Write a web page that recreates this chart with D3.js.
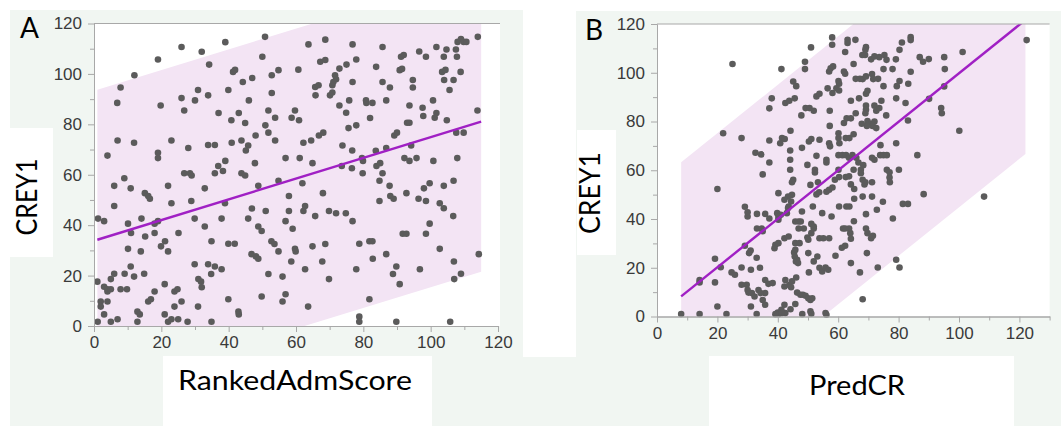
<!DOCTYPE html>
<html>
<head>
<meta charset="utf-8">
<script src="https://cdn.jsdelivr.net/npm/d3@7"></script>
<style>
  html, body { margin: 0; padding: 0; background: #fff; }
  svg { display: block; }
  .tick text { font-family: "Liberation Sans", Arial, sans-serif; fill: #3a3a3a; }
  .title { font-family: Lato, "Open Sans", sans-serif; fill: #000; }
</style>
</head>
<body>
<div id="chart"></div>
<script>
// panel A: RankedAdmScore vs CREY1, [x, y]
const pointsA = [
  [50.8,114.7],[114,114.7],[68.7,113.6],[76.8,111.7],[39,112.6],[26,110.7],[32,108.8],[63.7,111.7],[85.7,110.7],[91.2,106.8],
  [92,107.5],[96.6,108.9],[98.6,106.8],[101.7,110.7],[104.7,109.7],[103.9,106.8],[107.5,109.7],[109.8,112.7],[109,113.8],[108,112.7],
  [110.6,112.7],[107.8,106.8],[50,106.8],[19,105.7],[77.9,105.7],[67.2,104.8],[68.7,105.5],[75,103.7],[34.2,103.7],[72.9,102.1],
  [83.8,102.8],[90.8,101.5],[91.5,102],[103.4,100.8],[104.4,101.6],[108.9,100.8],[12,99.5],[41.3,100.8],[41.9,101.6],[54.8,101.5],
  [60.7,101.7],[52.8,99.5],[71.6,99.5],[71.9,97.9],[44.2,96.8],[47,98.4],[76.8,96.8],[85.7,96.8],[94.7,97.6],[94.7,94.6],
  [104,97.6],[106.8,97.6],[105.6,93.6],[7.9,94.6],[65.7,94.8],[66.7,95.5],[70.8,95.5],[71.1,96.8],[87.9,94.6],[26,90.4],
  [30.9,93.6],[33.9,91.5],[30,89.5],[39.9,93.6],[52.8,92.4],[46,89.5],[65.8,91.5],[70.1,91.5],[70.8,92.6],[75.8,89.5],
  [80.8,89.5],[80.9,88.5],[82.7,88.5],[86.8,89.5],[100.7,89.5],[72.9,87.5],[93.7,87.5],[6.9,88.5],[19.8,87.5],[97.6,86.6],
  [97.8,83.3],[101.7,84.5],[101.2,82.6],[113.9,85.5],[59.7,85.5],[51.8,85.5],[26.8,85.5],[37,84.5],[43,84.5],[53.8,82.6],
  [58.7,82.6],[60.9,81.6],[74.9,84.6],[40.8,81.6],[44.9,80.5],[82,82.5],[93,80.6],[93.7,80.6],[104.8,81.6],[50.9,79.6],
  [77.9,79.6],[75.6,78.5],[107.6,76.7],[109.8,76.7],[89.2,75.6],[90,76.7],[66.8,75.6],[68.1,76.7],[51.8,76.7],[48,75.6],
  [64.5,73.6],[62.2,72.7],[53.8,73.6],[23,73.6],[11.9,72.7],[7,73.6],[40.9,72.7],[35.9,71.8],[33.9,71.8],[43.8,73.6],
  [45.8,71.6],[45.1,69.6],[73.8,71.6],[94.2,71.6],[86.8,70.6],[83.7,69.5],[76.7,69.6],[95.8,66.6],[92.2,66.6],[93.7,65.5],
  [100.8,65.5],[107.9,66.6],[28,70.6],[19,68.7],[19,66.6],[4,67.6],[61.1,66.6],[56.9,66.6],[79.6,66.6],[79.9,65.5],
  [39,65.5],[36.9,63.5],[47.8,64.6],[64.9,64.6],[73.6,63.5],[76.6,62.6],[83.9,63.5],[85,64.6],[85.7,60.6],[79.8,60.6],
  [35.9,60.6],[38.3,61.5],[26.8,60.6],[28.5,60.6],[29,59.7],[43.8,60.6],[44.9,59.7],[6,55.6],[9,58.6],[10.9,54.6],
  [22,55.6],[32.9,54.6],[48.8,55.6],[54.8,57.6],[61.9,56.6],[84.8,57.6],[87.8,55.6],[92.8,52.7],[98,54.6],[99.7,56.6],
  [103.9,55.6],[106.8,57.6],[15.1,52.7],[16.1,51.6],[16.6,50.5],[57.9,51.6],[68,52.7],[88,51.6],[89,50.5],[96.4,50.5],
  [98.6,49.6],[84.8,49.6],[28.9,49.6],[23,48.7],[6,47.6],[38.9,48.7],[46.9,46.6],[102.7,48.7],[103.9,46.7],[106.7,43.6],
  [62.2,45.6],[62.7,47.6],[57.9,45.6],[51,45.6],[74.8,44.7],[69.8,45.6],[71.9,44.7],[1.2,42.6],[3,41.6],[14.1,42.6],
  [19,41.6],[18,40.6],[29.9,42.6],[37.9,42.6],[45.8,42.6],[56.9,41.6],[65.7,43.6],[76.8,41.6],[99.7,40.6],[10.1,40.6],
  [18,36.9],[11,36.9],[25.1,36.9],[32.9,39.5],[48.8,39.5],[49.8,37.7],[59,38.6],[21.1,33.6],[19.9,31.6],[34.9,33.6],
  [39.9,32.6],[41.8,32.6],[52.7,33.6],[53.6,32.5],[59.7,30.6],[59.9,29.6],[64.9,31.6],[68.7,32.5],[78.8,32.6],[81.8,33.6],
  [82.7,33.6],[98.6,36.6],[91.7,36.6],[92.8,36.6],[114.3,28.5],[106.9,25.6],[102.7,30.6],[86.8,28.5],[82.8,26.7],[67.8,25.6],
  [58.6,25.6],[54.8,29.6],[46.8,28.5],[48.1,27.6],[48.8,26.7],[22,29.6],[10.1,30.6],[13.9,29.6],[15.2,35.5],[1,17.6],
  [5,18.6],[6,20.7],[9.1,20.7],[10.9,23.6],[11.9,19.6],[14.9,20.7],[29.9,24.5],[33.9,24.5],[35.9,23.6],[37.9,22.5],
  [31,18.6],[31.8,17.6],[32,15.4],[34.8,20.6],[51.8,20.6],[56,19.6],[62.7,22.5],[69.8,18.6],[77.9,22.5],[88.8,20.6],
  [89.8,23.6],[96.8,22.5],[90.8,16.6],[107,18.6],[109,20.7],[3,15.6],[4,13.7],[4,14.6],[5,14.6],[7.9,14.6],
  [9.8,14.6],[21,16.6],[23.9,13.7],[24.8,14.6],[18,13.7],[16.1,9.7],[16.9,10.6],[26,9.7],[23.9,7.7],[21,4.6],
  [30.9,7.7],[39.9,10.6],[42.9,5.7],[43,4.6],[49.8,11.7],[56.9,12.6],[56,9.7],[63.6,7.7],[81.8,10.6],[2,9.7],
  [2,7.7],[4,9.7],[3,4.6],[12.9,5.7],[13.6,4.6],[1.1,1.7],[5,1.7],[7,2.7],[12.9,1.7],[22,1.7],
  [23,2.7],[25,2.7],[27.8,1.7],[34.9,1.7],[78.8,3.7],[78.8,1.7],[89.8,1.7],[105.8,1.7]
];

// panel B: PredCR vs CREY1, [x, y]
const pointsB = [
  [25,103.6],[41.2,101.5],[20,52.3],[21.9,75.2],[28,73.2],[122.4,113.4],[101.2,108.5],[100.1,76.2],[108.3,49.2],[88.3,50.2],
  [95.1,106.4],[95.3,101.5],[90,105.6],[87,106.4],[88.1,104.5],[94.1,85.5],[94.3,83.4],[95.1,94.4],[90.1,89.3],[86.2,66.2],
  [84,114.6],[84,113.4],[81.1,112.4],[80.3,109.4],[79.1,105.5],[84,100.4],[80.3,96.6],[79.4,94.5],[83.2,95.5],[82.3,87.6],
  [79.2,89.5],[83.1,80.4],[79.2,71.1],[80.1,60.2],[77,57],[77.1,55.1],[78.1,40.2],[81.4,46.2],[83.1,46.2],[79.2,23.3],
  [80.3,20.1],[73.6,106.4],[75.3,107.3],[76,105.3],[70.9,105.5],[72,106.7],[75,101.5],[78,101.5],[73.2,97.5],[75,94.5],
  [69,109.4],[69.2,110.5],[68.9,107.3],[65.7,113.5],[63.1,113.5],[63.1,112.2],[58,114.5],[58,111.5],[62.3,108.5],[68,107.3],
  [65.1,103.6],[57,100.5],[57.5,101.8],[58.3,102.6],[49,104.5],[49,101.5],[51,110.4],[71.2,99.5],[71.6,97.4],[68.1,97.4],
  [69.2,98.5],[65.8,97.5],[67.2,97.5],[61.9,100.5],[62.3,99.6],[60.1,96.6],[60.3,95.5],[56.5,93.6],[58.1,91.7],[59.4,93.6],
  [60.3,92.7],[52.8,90.3],[53.8,91.4],[45.1,96.4],[46.1,94.5],[42.5,87.6],[43.8,88.5],[45.6,89.5],[38,89.5],[37.2,85.4],
  [47.8,82.5],[49.2,85.5],[50.5,85.5],[51.9,84.4],[57.2,84.4],[57.2,78.2],[64.2,88.5],[66.9,89.5],[69.2,91.4],[69.7,92.6],
  [69.2,86.5],[69.2,84.8],[69,83.4],[72,86.5],[72.6,84.4],[74.3,88.5],[75.9,82.5],[73.6,85.5],[65.8,83.4],[69.7,80.2],
  [70.7,79.1],[72,80],[71.4,78.2],[69.5,78.2],[72.6,77.3],[67.8,79.1],[62.8,81.3],[64.2,81.3],[61.9,79.4],[60.1,75.2],
  [60.1,73.2],[60.4,71.1],[62.5,73.2],[63.7,73.2],[65.1,74.8],[57,71.1],[57.3,69.8],[53.8,72.5],[51.1,72.8],[50.3,71.8],
  [48,69.2],[44.2,76.2],[41.4,73.2],[42.3,72.8],[40.8,71.1],[44.1,68.1],[37.2,72.2],[32.6,67.2],[34.5,66.5],[37.2,63.2],
  [35,58.3],[44.1,64.3],[44.1,60.2],[45.1,56.1],[44.7,55.1],[49.8,62.2],[52.3,60.2],[52.3,59.1],[52.8,65.9],[56.1,63.2],
  [56.1,64.3],[60.1,66.2],[61.4,66.2],[62.6,66.2],[63.6,65.1],[64.7,66.2],[60.1,60.2],[58.9,56.1],[60.3,57.2],[62.5,57.2],
  [63.6,57.5],[64.2,54.2],[65.3,52.3],[65.1,60.2],[66.7,63.2],[66,65.1],[67.5,60.2],[67.5,58.8],[68.3,62.1],[68.7,54.2],
  [68.1,56.1],[69,55.1],[71.2,65.1],[72,64.3],[73.9,66.2],[75,66.2],[76.1,66.2],[76.1,60.2],[77,59.2],[74,70.3],
  [71.2,55.1],[68.1,49.2],[65.3,48.3],[62.7,45.1],[63.7,45.1],[65.2,39.1],[64,34.2],[64.2,31.9],[63.6,36.1],[61.6,36.1],
  [62.3,36.1],[61.2,28.2],[62.3,29],[64.2,21.9],[67.2,18.1],[68.1,7.1],[69.2,36.1],[69.7,34.2],[70.9,32.1],[71.5,33.1],
  [69.2,42],[69.5,26],[72.8,43.8],[71.2,49.2],[74.8,47.1],[73.1,20.1],[59.1,24.9],[60.3,45.1],[57.8,41],[54.7,42.4],
  [52.8,50.1],[53.7,51],[56.1,51.2],[57,52],[51.6,45.1],[53.3,55.1],[50.8,54],[51.1,38],[51.9,36.9],[51.9,36.1],
  [51.1,34.2],[49.8,32.4],[50.1,31.5],[48.6,36.1],[46.9,36.1],[46.9,39],[45.8,39],[47.6,39],[48,43.1],[53.8,32.1],
  [55.1,32.1],[57,32.1],[53.1,24.6],[53.8,20],[54.7,18.5],[55.8,20.1],[56.7,19.2],[51.9,22.6],[50.1,26],[50.3,18.1],
  [43.6,45.1],[44.4,47.2],[44.7,49.9],[43.4,49.2],[42.2,47.9],[40.2,50.6],[39.8,42.4],[41,41.7],[40.2,40.8],[43,42.4],
  [43.4,44.5],[40.2,39.7],[39.2,29.4],[38.9,28],[40.2,30.1],[42.2,32.1],[43.6,32.8],[45.8,30.1],[47.2,30.1],[45.4,26.3],
  [45.6,24.6],[46.4,23.3],[46.7,21.9],[46,22.6],[45.8,27.4],[46.1,16],[43.8,12.9],[44.7,14.4],[44.4,12],[42.2,12.3],
  [42.5,15],[46.4,9.8],[47.5,8.9],[48.3,8.9],[49.2,8.5],[50.1,7.5],[50.8,6.8],[51.4,7.5],[50.8,2.1],[51.1,1.1],
  [45.8,5.1],[44.2,3],[42.5,1.4],[42.2,4.8],[41.2,2.7],[40,1.6],[40.2,0.96],[39.2,0.96],[41.4,1.4],[48.1,0.96],
  [55.8,1.4],[56.1,0.7],[35.8,9.6],[35,6.8],[35.8,4.8],[33.6,10.9],[34.3,9.6],[31.4,9.6],[32.3,8.2],[30,10.9],
  [30.3,9.8],[29.7,13],[28,13],[31.1,4.1],[33,1],[35.8,15],[34.1,20],[31.1,19.2],[28,20.1],[24.7,18.1],
  [25.8,17.1],[33,24.1],[30.5,26],[31,27.1],[29.1,29],[30,41],[30,42.8],[29.1,45],[33.1,42.1],[35.8,42.1],
  [33.1,36.1],[34.7,36.1],[35,35],[37.2,40.2],[36.9,13.4],[38.3,13.7],[21.1,20.2],[19.2,23.7],[19.2,14],[14.1,15],
  [14.1,14],[20,4.1],[23,1],[14.1,1],[8,1],[58.1,52.9]
];

// fitted line [intercept, slope], prediction band half width, x span
const fitA = [33.8, 0.411];
const bandA = 59.5;
const spanA = [1, 115];
const fitB = [0.3, 0.995];
const bandB = 55;
const spanB = [8, 122];

const yTicks = [0, 20, 40, 60, 80, 100, 120];
const yMinor = [10, 30, 50, 70, 90, 110];
const xTicksA = [0, 20, 40, 60, 80, 100, 120];
const xMinorA = [10, 30, 50, 70, 90, 110];
const xTicksB = [0, 20, 40, 60, 80, 100, 120];
const xMinorB = [10, 30, 50, 70, 90, 110, 130];

const width = 1061, height = 426;
const green = '#f1f6f2';

let svg = d3.select('#chart').append('svg')
  .attr('width', width)
  .attr('height', height);

svg.append('rect').attr('width', width).attr('height', height).attr('fill', '#fff');

function drawPanel(p) {
  let g = svg.append('g');

  // slide backgrounds and white label boxes
  p.greens.forEach(r => {
    g.append('rect').attr('x', r[0]).attr('y', r[1]).attr('width', r[2]).attr('height', r[3]).attr('fill', green);
  });
  p.whites.forEach(r => {
    g.append('rect').attr('x', r[0]).attr('y', r[1]).attr('width', r[2]).attr('height', r[3]).attr('fill', '#fff');
  });

  let x = d3.scaleLinear().domain(p.xDomain).range(p.xRange);
  let y = d3.scaleLinear().domain([0, 120]).range(p.yRange);

  g.append('rect')
    .attr('x', x(0)).attr('y', y(120))
    .attr('width', x(p.xDomain[1]) - x(0) + p.padRight)
    .attr('height', y(0) - y(120))
    .attr('fill', '#fff');

  let clipId = 'clip' + p.name;
  g.append('clipPath').attr('id', clipId)
    .append('rect')
    .attr('x', x(0)).attr('y', y(120))
    .attr('width', x(p.xDomain[1]) - x(0))
    .attr('height', y(0) - y(120));

  let fitY = v => p.fit[0] + p.fit[1] * v;
  let band = [
    [p.span[0], fitY(p.span[0]) + p.band],
    [p.span[1], fitY(p.span[1]) + p.band],
    [p.span[1], fitY(p.span[1]) - p.band],
    [p.span[0], fitY(p.span[0]) - p.band]
  ];

  g.append('path')
    .attr('clip-path', `url(#${clipId})`)
    .attr('d', d3.line().x(d => x(d[0])).y(d => y(d[1]))(band) + 'Z')
    .attr('fill', '#f3e4f4');

  g.append('g').selectAll('circle')
    .data(p.points)
    .enter()
    .append('circle')
    .attr('cx', d => x(d[0]))
    .attr('cy', d => y(d[1]))
    .attr('r', 3.3)
    .attr('fill', '#5b5b5b');

  g.append('path')
    .attr('clip-path', `url(#${clipId})`)
    .attr('d', d3.line().x(d => x(d)).y(d => y(fitY(d)))(p.span))
    .attr('stroke', '#a020c4')
    .attr('stroke-width', 2.4)
    .attr('fill', 'none');

  // axes
  let axisColor = '#a8a8a8';
  let style = sel => {
    sel.select('.domain').attr('stroke', axisColor);
    sel.selectAll('.tick line').attr('stroke', axisColor);
    sel.selectAll('.tick text').style('font-size', '17px');
  };

  g.append('g')
    .attr('transform', `translate(0,${y(0)})`)
    .call(d3.axisBottom(x).tickValues(p.xTicks).tickSize(6).tickPadding(4).tickSizeOuter(0))
    .call(style);
  g.append('g')
    .attr('transform', `translate(0,${y(0)})`)
    .call(d3.axisBottom(x).tickValues(p.xMinor).tickSize(4).tickFormat('').tickSizeOuter(0))
    .call(style);

  g.append('g')
    .attr('transform', `translate(${x(0)},0)`)
    .call(d3.axisLeft(y).tickValues(yTicks).tickSize(6).tickPadding(6).tickSizeOuter(0))
    .call(style);
  g.append('g')
    .attr('transform', `translate(${x(0)},0)`)
    .call(d3.axisLeft(y).tickValues(yMinor).tickSize(4).tickFormat('').tickSizeOuter(0))
    .call(style);

  g.append('line')
    .attr('x1', x(0)).attr('x2', x(p.xDomain[1]) + p.padRight)
    .attr('y1', y(120)).attr('y2', y(120))
    .attr('stroke', axisColor);

  // titles
  g.append('text').attr('class', 'title')
    .attr('x', p.letter[0]).attr('y', p.letter[1])
    .style('font-size', '28px')
    .text(p.name);

  g.append('text').attr('class', 'title')
    .attr('transform', `translate(${p.yTitle[0]},${p.yTitle[1]}) rotate(-90)`)
    .attr('text-anchor', 'middle')
    .attr('textLength', p.yTitle[2])
    .attr('lengthAdjust', 'spacingAndGlyphs')
    .style('font-size', '29px')
    .text('CREY1');

  g.append('text').attr('class', 'title')
    .attr('x', p.xTitle[0]).attr('y', p.xTitle[1])
    .attr('text-anchor', 'middle')
    .attr('textLength', p.xTitle[2])
    .attr('lengthAdjust', 'spacingAndGlyphs')
    .style('font-size', '27px')
    .text(p.xLabel);
}

drawPanel({
  name: 'A',
  points: pointsA, fit: fitA, band: bandA, span: spanA,
  xDomain: [0, 120], xRange: [94, 498], yRange: [326, 23.5], padRight: 2,
  xTicks: xTicksA, xMinor: xMinorA,
  greens: [[10, 10, 513, 416]],
  whites: [[10, 128, 43, 129], [163, 356, 269, 70]],
  letter: [20, 38], yTitle: [36.5, 197, 77], xTitle: [295, 390, 234], xLabel: 'RankedAdmScore'
});

drawPanel({
  name: 'B',
  points: pointsB, fit: fitB, band: bandB, span: spanB,
  xDomain: [0, 130], xRange: [657, 657 + 130 * 3.02], yRange: [316.5, 24], padRight: 0,
  xTicks: xTicksB, xMinor: xMinorB,
  greens: [[576, 11, 485, 415], [523, 357, 53, 69]],
  whites: [[577, 130, 39, 125], [709, 356, 305, 70]],
  letter: [585, 40], yTitle: [600, 193, 82], xTitle: [857, 395, 96], xLabel: 'PredCR'
});
</script>
</body>
</html>
